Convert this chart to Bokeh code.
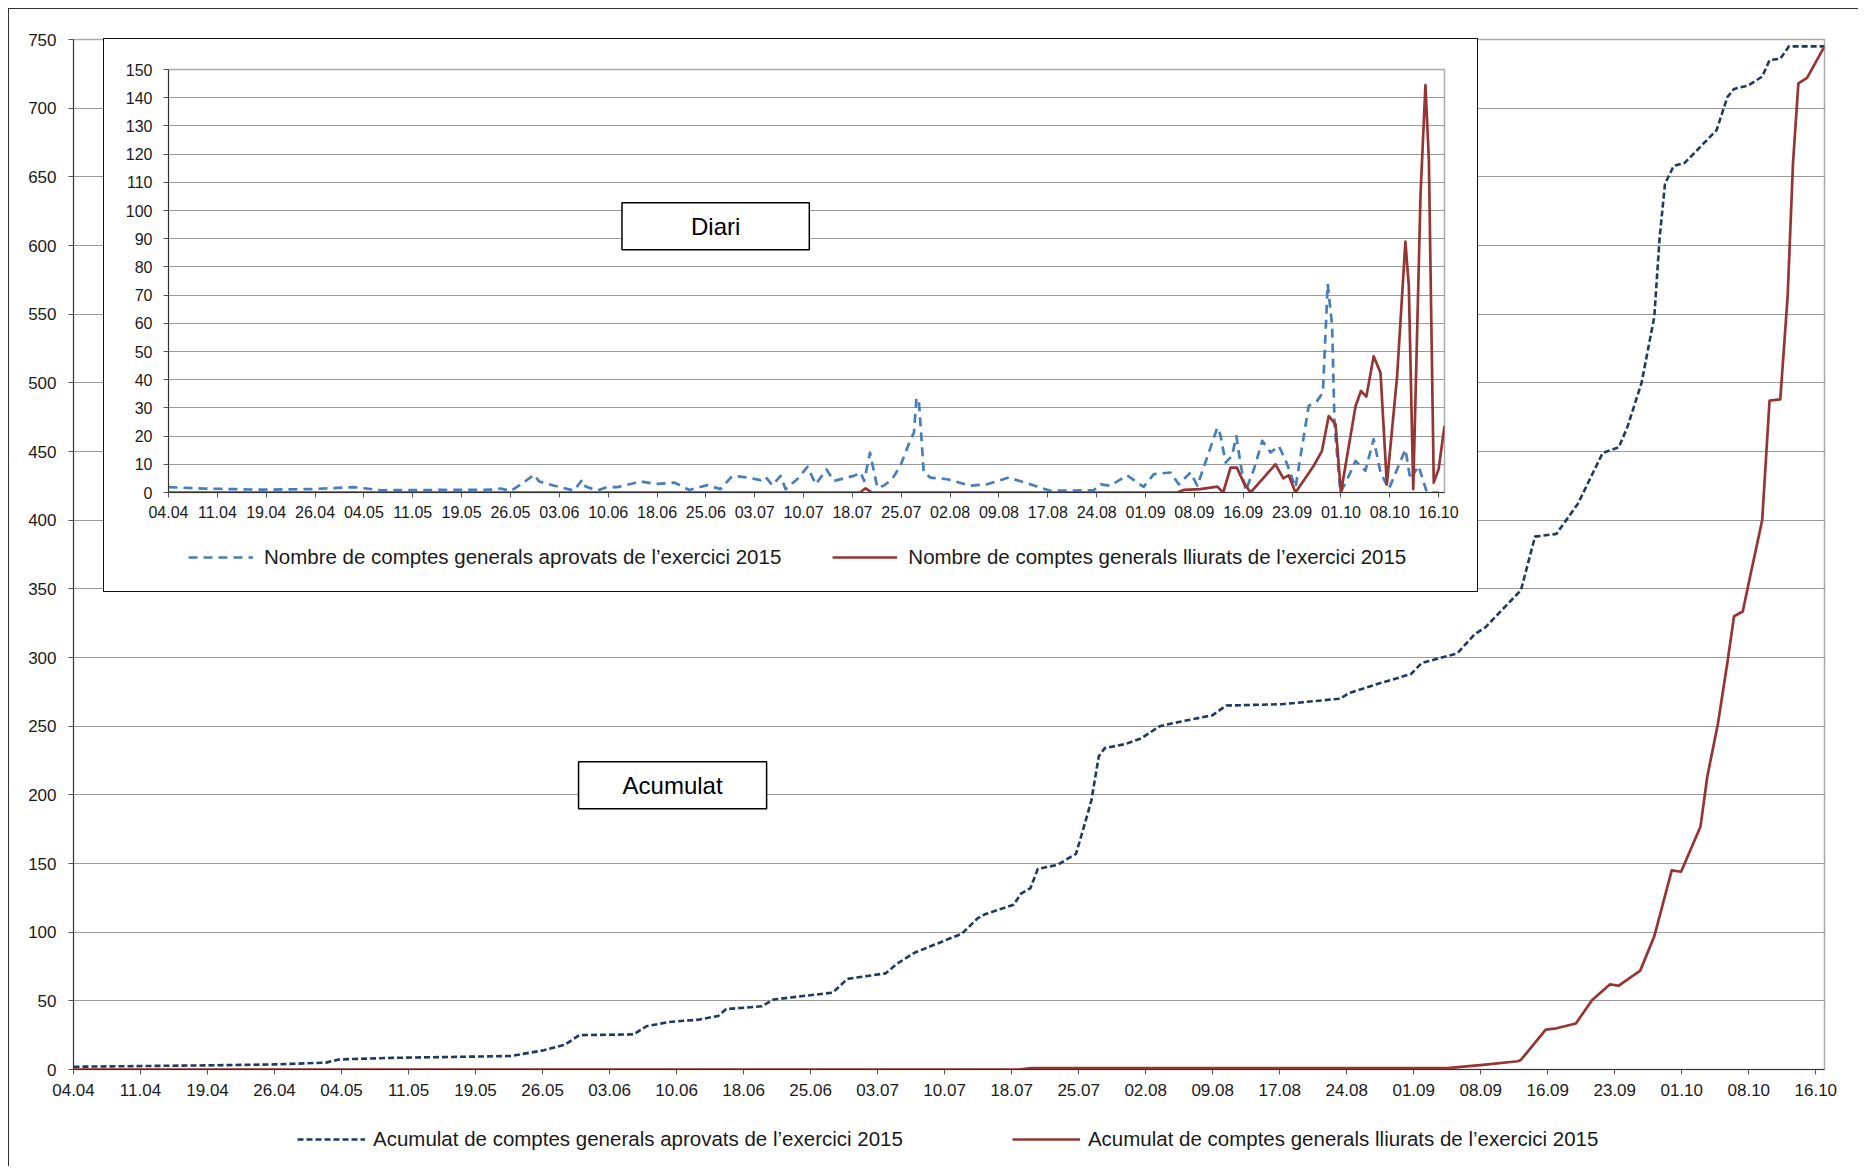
from bokeh.plotting import figure
from bokeh.models import Range1d, FixedTicker, Legend, LegendItem, Label
from bokeh.layouts import column
from bokeh.embed import file_html
from bokeh.resources import INLINE

# ---------------- data ----------------
date_labels = ["04.04", "11.04", "19.04", "26.04", "04.05", "11.05", "19.05", "26.05",
               "03.06", "10.06", "18.06", "25.06", "03.07", "10.07", "18.07", "25.07",
               "02.08", "09.08", "17.08", "24.08", "01.09", "08.09", "16.09", "23.09",
               "01.10", "08.10", "16.10"]

# cumulative approved (x in category-label units)
acum_aprov_x = [0, 1.96, 3.0, 3.77, 3.96, 4.77, 6.52, 7.02, 7.33, 7.55, 8.36, 8.55, 8.89, 9.33,
                9.62, 9.74, 10.27, 10.45, 11.33, 11.55, 12.12, 12.29, 12.55, 13.26, 13.49, 13.6,
                14.03, 14.14, 14.28, 14.39, 14.68, 14.96, 15.08, 15.19, 15.3, 15.39, 15.7, 15.93,
                16.21, 16.44, 17.0, 17.2, 18.03, 18.9, 19.03, 19.48, 19.96, 20.12, 20.65, 20.91,
                21.07, 21.6, 21.81, 22.13, 22.45, 22.82, 23.06, 23.19, 23.4, 23.59, 23.67, 23.75,
                23.88, 24.04, 24.52, 24.68, 24.78, 24.99, 25.2, 25.31, 25.47, 25.6, 26.13]
acum_aprov_y = [2, 3, 3.7, 5, 7.3, 8.5, 9.8, 14, 18, 25, 25.6, 31.5, 34.6, 36.3,
                39, 44, 46, 51, 56, 66, 70, 77, 85, 99, 110, 113,
                120, 128, 132, 146, 149, 157, 177, 196, 228, 234, 237, 241,
                250, 252.5, 258, 265, 266, 270, 274, 281, 288, 296, 303, 317,
                322, 349, 388, 390, 412, 449, 453, 468, 500, 548, 606, 645,
                658, 660, 684, 708, 714, 716.5, 723, 735, 736, 745, 745]

# cumulative delivered
acum_lliur_x = [0, 14.1, 14.3, 20.5, 21.07, 21.55, 21.6, 21.97, 22.13, 22.42, 22.66, 22.93,
                23.06, 23.38, 23.59, 23.85, 23.99, 24.28, 24.38, 24.54, 24.68, 24.78, 24.91,
                25.02, 25.2, 25.31, 25.47, 25.58, 25.66, 25.74, 25.87, 26.13]
acum_lliur_y = [0, 0, 1, 1, 3.5, 6, 7, 29, 30, 33.5, 50.5, 62,
                61, 72, 97, 145, 144, 177, 213, 252, 296, 330, 333.5,
                359, 400, 487, 488, 563, 660, 718, 722, 745]

# daily approved
diari_aprov_x = [0, 0.74, 1.9, 2.9, 3.8, 4.0, 4.35, 6.67, 6.8, 7.0, 7.25, 7.48, 7.59, 7.9, 8.3,
                 8.47, 8.54, 8.78, 8.98, 9.19, 9.5, 9.65, 9.97, 10.36, 10.66, 11.03, 11.3, 11.54,
                 11.85, 12.12, 12.22, 12.36, 12.53, 12.63, 12.87, 13.08, 13.25, 13.47, 13.62,
                 14.03, 14.17, 14.24, 14.36, 14.51, 14.64, 14.81, 14.98, 15.19, 15.26, 15.31,
                 15.36, 15.41, 15.46, 15.6, 15.94, 16.42, 16.76, 17.2, 17.64, 18.05, 18.94,
                 19.08, 19.28, 19.62, 19.96, 20.17, 20.51, 20.68, 20.92, 21.06, 21.26, 21.47,
                 21.53, 21.64, 21.77, 21.86, 21.94, 22.05, 22.22, 22.39, 22.56, 22.73, 22.9,
                 23.07, 23.24, 23.34, 23.51, 23.63, 23.73, 23.82, 23.87, 23.99, 24.13, 24.3,
                 24.5, 24.67, 24.81, 24.98, 25.32, 25.42, 25.59, 25.76, 26.0]
diari_aprov_y = [1.9, 1.4, 1.0, 1.2, 1.9, 1.5, 0.8, 1.0, 1.4, 0.5, 3.3, 6.3, 3.9, 2.4, 0.7,
                 4.5, 2.1, 0.7, 1.9, 1.9, 3.2, 4.0, 3.0, 3.5, 0.9, 2.6, 1.2, 5.9,
                 5.3, 4.4, 5.6, 2.6, 5.9, 1.2, 4.7, 9.1, 2.9, 8.2, 4.1,
                 5.9, 7.1, 4.1, 14.1, 1.8, 2.4, 4.7, 9.4, 18.8, 21.2, 33.5,
                 32.4, 20, 7.1, 5.3, 4.7, 2.4, 2.9, 5.3, 2.9, 0.6, 0.8,
                 2.9, 2.4, 6.1, 2.0, 6.5, 7.1, 2.9, 7.1, 2.4, 12.4, 23,
                 20.6, 10.6, 13, 20, 10.6, 0.6, 8.3, 18.3, 14.2, 16.5, 10,
                 1.8, 20, 30.7, 32.4, 35.4, 74, 59, 23.6, 0, 4.7, 11.2,
                 7.7, 18.9, 7.1, 1.2, 15.3, 4.7, 9.4, 0, 0]

# daily delivered
diari_lliur_x = [0, 14.15, 14.27, 14.4, 20.65, 20.78, 21.12, 21.47, 21.59, 21.74, 21.87, 22.01,
                 22.15, 22.66, 22.82, 22.93, 23.07, 23.44, 23.61, 23.75, 23.89, 24.0, 24.3,
                 24.41, 24.52, 24.67, 24.81, 24.94, 25.15, 25.32, 25.39, 25.48, 25.63, 25.73,
                 25.8, 25.9, 26.0, 26.12]
diari_lliur_y = [0, 0, 1.5, 0, 0, 0.9, 1.2, 2.1, 0, 8.8, 8.8, 3.5,
                 0, 10, 5, 6.1, 0, 9.4, 14.7, 27.1, 24.2, 0, 30.7,
                 36, 34, 48.3, 42.5, 2.9, 41.3, 89, 73, 1.2, 106, 144.5,
                 118, 3.5, 8.3, 23.6]

legend_main = ["Acumulat de comptes generals aprovats de l’exercici 2015",
               "Acumulat de comptes generals lliurats de l’exercici 2015"]
legend_inset = ["Nombre de comptes generals aprovats de l’exercici 2015",
                "Nombre de comptes generals lliurats de l’exercici 2015"]

FONT = "Liberation Sans"
C_NAVY = "#1f3a60"
C_BLUE = "#4a7ebb"
C_RED = "#963634"
GRID = "#9a9a9a"

STY_MAIN_APROV = dict(line_color=C_NAVY, line_width=2.6, line_dash="6 3", line_join="round")
STY_LLIUR = dict(line_color=C_RED, line_width=2.7, line_join="round")
STY_IN_APROV = dict(line_color=C_BLUE, line_width=2.7, line_dash="9 6", line_join="round")


def style_axes(p, tick_size):
    for ax in (p.xaxis[0], p.yaxis[0]):
        ax.major_label_text_font = FONT
        ax.major_label_text_font_size = tick_size
        ax.major_label_text_color = "#1a1a1a"
        ax.major_tick_in = 0
        ax.major_tick_out = 5
        ax.minor_tick_out = 0
        ax.minor_tick_in = 0
        ax.axis_line_color = "#333333"
        ax.major_tick_line_color = "#555555"
    p.xaxis[0].ticker = FixedTicker(ticks=list(range(len(date_labels))))
    p.xaxis[0].major_label_overrides = {i: s for i, s in enumerate(date_labels)}
    p.xgrid.visible = False
    p.ygrid.grid_line_color = GRID
    p.ygrid.grid_line_width = 1.2
    p.outline_line_color = "#aaaaaa"
    p.outline_line_width = 1.5


def legend_strip(labels, styles, top, width, x_off, spacing, glyph_w, standoff):
    lg = figure(frame_width=width, frame_height=40, output_backend="svg",
                toolbar_location=None,
                x_range=Range1d(0, 1), y_range=Range1d(0, 1),
                x_axis_location=None, y_axis_location=None,
                min_border=0, min_border_left=0, min_border_right=0,
                min_border_top=0, min_border_bottom=0)
    lg.grid.visible = False
    lg.outline_line_color = None
    lg.background_fill_alpha = 0
    lg.border_fill_alpha = 0
    lg.styles = {"position": "absolute", "left": "0px", "top": f"{top}px"}
    items = []
    for lab, sty in zip(labels, styles):
        # legend-key renderer only (a single undefined point: nothing is drawn in the strip)
        r = lg.line([float("nan")], [float("nan")], **sty)
        items.append(LegendItem(label=lab, renderers=[r]))
    leg = Legend(items=items, orientation="horizontal", location=(x_off, 10),
                 spacing=spacing, glyph_width=glyph_w, glyph_height=20, label_height=20,
                 label_standoff=standoff, label_text_font=FONT, label_text_font_size="20.5px",
                 label_text_color="#1a1a1a", border_line_color=None,
                 background_fill_alpha=0, margin=0, padding=0)
    lg.add_layout(leg, "center")
    return lg


# ---------------- main (cumulative) ----------------
x_end_main = max(acum_aprov_x + acum_lliur_x)
main = figure(width=1850, height=1158, output_backend="svg", toolbar_location=None,
              x_range=Range1d(0, x_end_main), y_range=Range1d(0, 750),
              min_border_left=64, min_border_right=25, min_border_top=30, min_border_bottom=98)
main.styles = {"margin-left": "8px", "margin-top": "8px",
               "border-left": "1.5px solid #333", "border-top": "1.5px solid #333"}
style_axes(main, "17px")
main.yaxis[0].ticker = FixedTicker(ticks=list(range(0, 751, 50)))
main.xaxis[0].major_label_standoff = 9
main.yaxis[0].major_label_standoff = 12

main.line(acum_aprov_x, acum_aprov_y, **STY_MAIN_APROV)
main.line(acum_lliur_x, acum_lliur_y, **STY_LLIUR)

main.add_layout(Label(x=8.94, y=207, text="Acumulat", text_align="center",
                      text_baseline="middle", text_font=FONT, text_font_size="24px",
                      text_color="black", border_line_color="black", border_line_width=1.5,
                      background_fill_color="white", padding=(44, 10)))

# ---------------- inset (daily) ----------------
x_end_inset = max(diari_aprov_x + diari_lliur_x)
inset = figure(width=1375, height=554, output_backend="svg", toolbar_location=None,
               x_range=Range1d(0, x_end_inset), y_range=Range1d(0, 150),
               min_border_left=63, min_border_right=35, min_border_top=30, min_border_bottom=101)
inset.styles = {"position": "absolute", "left": "103px", "top": "38px",
                "border": "1.5px solid #111", "background-color": "white"}
style_axes(inset, "16px")
inset.yaxis[0].ticker = FixedTicker(ticks=list(range(0, 151, 10)))
inset.xaxis[0].major_label_standoff = 8
inset.yaxis[0].major_label_standoff = 11

inset.line(diari_aprov_x, diari_aprov_y, **STY_IN_APROV)
inset.line(diari_lliur_x, diari_lliur_y, **STY_LLIUR)

inset.add_layout(Label(x=11.2, y=94.4, text="Diari", text_align="center",
                       text_baseline="middle", text_font=FONT, text_font_size="24px",
                       text_color="black", border_line_color="black", border_line_width=1.5,
                       background_fill_color="white", padding=(69, 10)))

# ---------------- legends (below each chart) ----------------
leg_main_fig = legend_strip(legend_main, [STY_MAIN_APROV, STY_LLIUR], top=1121,
                            width=1840, x_off=297, spacing=109, glyph_w=68, standoff=8)
leg_in_fig = legend_strip(legend_inset, [STY_IN_APROV, STY_LLIUR], top=539,
                          width=1440, x_off=188, spacing=51, glyph_w=65, standoff=11)

root = column(main, inset, leg_in_fig, leg_main_fig)

open("out.html", "w").write(file_html(root, INLINE))
